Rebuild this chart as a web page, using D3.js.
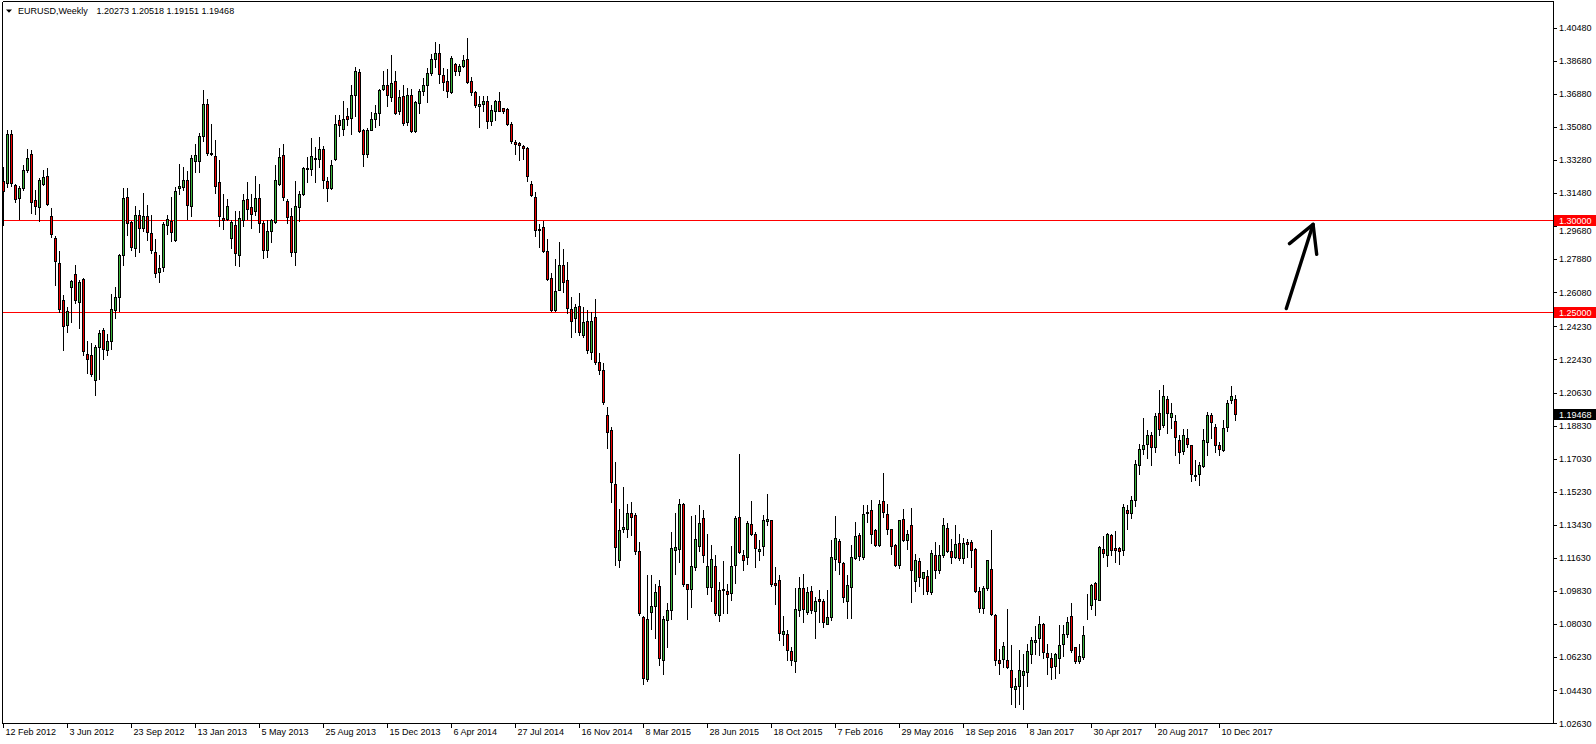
<!DOCTYPE html>
<html><head><meta charset="utf-8">
<script src="https://cdn.jsdelivr.net/npm/d3@7"></script>
<style>
body{margin:0;background:#fff}
svg{display:block}
text{font-family:"Liberation Sans",Arial,sans-serif;font-size:9px;fill:#000}
</style>
</head><body>
<svg id="chart" width="1596" height="744"></svg>
<script>
const symbol = "EURUSD,Weekly";
const firstWeek = "2012-02-12";

const open = [
1.3212,1.3203,1.3471,1.3194,1.3123,1.3178,1.3276,1.3363,1.3109,1.3073,
1.3200,1.3243,1.3022,1.2902,1.2770,1.2569,1.2433,1.2639,1.2706,1.2558,
1.2683,1.2275,1.2270,1.2134,1.2311,1.2402,1.2297,1.2346,1.2514,1.2585,
1.2813,1.3129,1.2989,1.2850,1.3029,1.2960,1.3026,1.2933,1.2828,1.2721,
1.2748,1.2977,1.2998,1.2895,1.3176,1.3183,1.3221,1.3076,1.3323,1.3325,
1.3457,1.3635,1.3368,1.3352,1.3207,1.3011,1.3006,1.2906,1.2977,1.2813,
1.3000,1.3116,1.3075,1.3051,1.3123,1.2984,1.2840,1.2940,1.2991,1.3200,
1.3354,1.3104,1.3022,1.2830,1.3073,1.3142,1.3287,1.3279,1.3336,1.3336,
1.3390,1.3212,1.3176,1.3335,1.3544,1.3499,1.3566,1.3557,1.3684,1.3809,
1.3493,1.3363,1.3493,1.3550,1.3584,1.3713,1.3734,1.3671,1.3760,1.3593,
1.3676,1.3533,1.3680,1.3484,1.3638,1.3704,1.3734,1.3803,1.3876,1.3912,
1.3792,1.3760,1.3698,1.3852,1.3812,1.3840,1.3876,1.3760,1.3696,1.3624,
1.3635,1.3647,1.3540,1.3597,1.3647,1.3609,1.3608,1.3526,1.3428,1.3422,
1.3402,1.3394,1.3200,1.3129,1.2955,1.2965,1.2833,1.2686,1.2512,1.2623,
1.2755,1.2674,1.2517,1.2466,1.2533,1.2374,1.2451,1.2286,1.2472,1.2231,
1.2188,1.1941,1.1860,1.1568,1.1150,1.1321,1.1319,1.1405,1.1399,1.1199,
1.0842,1.0502,1.0871,1.0904,1.1009,1.0610,1.0828,1.0879,1.1209,1.1214,
1.1459,1.1020,1.0996,1.1114,1.1227,1.1383,1.1006,1.1006,1.1122,1.0851,
1.0987,1.0986,1.0975,1.1125,1.1388,1.1181,1.1169,1.1346,1.1296,1.1201,
1.1229,1.1364,1.1368,1.1025,1.1042,1.0752,1.0752,1.0656,1.0603,1.0882,
1.1002,1.0870,1.0982,1.0875,1.0942,1.0928,1.0806,1.0844,1.1160,1.1254,
1.1136,1.0929,1.1006,1.1165,1.1290,1.1169,1.1412,1.1423,1.1314,1.1232,
1.1471,1.1404,1.1319,1.1232,1.1127,1.1377,1.1259,1.1341,1.1040,1.1145,
1.1056,1.1064,1.0980,1.1178,1.1100,1.1178,1.1328,1.1201,1.1169,1.1243,
1.1165,1.1248,1.1248,1.1212,1.0984,1.0893,1.1002,1.1102,1.0851,1.0610,
1.0616,1.0607,1.0552,1.0451,1.0465,1.0529,1.0543,1.0643,1.0706,1.0730,
1.0806,1.0648,1.0621,1.0574,1.0621,1.0694,1.0748,1.0846,1.0676,1.0603,
1.0625,1.0906,1.0906,1.1029,1.0937,1.1210,1.1178,1.1287,1.1219,1.1219,
1.1205,1.1426,1.1408,1.1477,1.1671,1.1754,1.1782,1.1831,1.1767,1.1954,
1.1885,1.2026,1.1930,1.1907,1.1803,1.1745,1.1818,1.1776,1.1617,1.1620,
1.1664,1.1794,1.1939,1.1876,1.1776,1.1749,1.1876,1.2024,1.20273];

const high = [
1.3290,1.3490,1.3490,1.3200,1.3185,1.3299,1.3390,1.3384,1.3163,1.3232,
1.3276,1.3287,1.3069,1.2913,1.2831,1.2596,1.2529,1.2677,1.2755,1.2674,
1.2687,1.2344,1.2331,1.2321,1.2402,1.2416,1.2380,1.2601,1.2637,1.2819,
1.3174,1.3178,1.2997,1.3076,1.3058,1.3147,1.3085,1.3027,1.2900,1.2810,
1.2991,1.3031,1.3127,1.3180,1.3308,1.3290,1.3267,1.3357,1.3417,1.3477,
1.3711,1.3660,1.3522,1.3439,1.3326,1.3142,1.3114,1.3000,1.3051,1.3049,
1.3142,1.3209,1.3145,1.3243,1.3200,1.2995,1.3004,1.3009,1.3303,1.3394,
1.3417,1.3114,1.3067,1.3212,1.3158,1.3290,1.3345,1.3450,1.3399,1.3453,
1.3403,1.3236,1.3326,1.3571,1.3571,1.3647,1.3611,1.3734,1.3832,1.3823,
1.3495,1.3502,1.3589,1.3626,1.3716,1.3812,1.3825,1.3898,1.3814,1.3707,
1.3738,1.3720,1.3713,1.3647,1.3716,1.3776,1.3831,1.3907,1.3970,1.3961,
1.3829,1.3822,1.3892,1.3858,1.3852,1.3901,1.3994,1.3780,1.3705,1.3676,
1.3675,1.3676,1.3629,1.3655,1.3698,1.3611,1.3611,1.3535,1.3439,1.3424,
1.3410,1.3398,1.3214,1.3155,1.2982,1.2996,1.2900,1.2716,1.2792,1.2884,
1.2843,1.2772,1.2582,1.2547,1.2602,1.2531,1.2512,1.2500,1.2572,1.2278,
1.2225,1.1986,1.1878,1.1686,1.1431,1.1548,1.1456,1.1466,1.1405,1.1252,
1.0846,1.1069,1.1069,1.1024,1.1045,1.0846,1.0919,1.1305,1.1408,1.1482,
1.1461,1.1024,1.1392,1.1395,1.1450,1.1423,1.1292,1.1232,1.1178,1.1033,
1.1147,1.1024,1.1227,1.1390,1.1727,1.1205,1.1365,1.1471,1.1305,1.1259,
1.1395,1.1510,1.1372,1.1114,1.1073,1.0846,1.0770,1.0679,1.1002,1.1060,
1.1074,1.1006,1.1011,1.0951,1.0987,1.0942,1.0987,1.1259,1.1390,1.1265,
1.1142,1.1069,1.1232,1.1357,1.1299,1.1452,1.1450,1.1477,1.1323,1.1477,
1.1627,1.1459,1.1323,1.1241,1.1372,1.1428,1.1314,1.1437,1.1183,1.1165,
1.1087,1.1096,1.1209,1.1248,1.1232,1.1379,1.1354,1.1268,1.1341,1.1296,
1.1274,1.1268,1.1259,1.1219,1.1006,1.1009,1.1154,1.1314,1.0857,1.0670,
1.0706,1.0888,1.0688,1.0512,1.0665,1.0639,1.0697,1.0734,1.0792,1.0846,
1.0810,1.0694,1.0647,1.0647,1.0797,1.0797,1.0842,1.0920,1.0679,1.0694,
1.0792,1.0966,1.1020,1.1035,1.1229,1.1281,1.1300,1.1292,1.1308,1.1223,
1.1455,1.1450,1.1499,1.1695,1.1785,1.1925,1.1858,1.1849,1.1952,1.2079,
1.2102,1.2043,1.2008,1.1943,1.1831,1.1867,1.1867,1.1780,1.1698,1.1685,
1.1867,1.1957,1.1952,1.1890,1.1794,1.1912,1.2021,1.2097,1.20518];

const low = [
1.2977,1.3181,1.3185,1.3100,1.3007,1.3163,1.3263,1.3040,1.3033,1.2997,
1.3190,1.3082,1.2909,1.2647,1.2500,1.2297,1.2393,1.2447,1.2550,1.2414,
1.2266,1.2170,1.2152,1.2050,1.2137,1.2248,1.2266,1.2302,1.2469,1.2507,
1.2757,1.2921,1.2837,1.2808,1.2828,1.2940,1.2893,1.2822,1.2692,1.2665,
1.2725,1.2928,1.2886,1.2890,1.3142,1.3163,1.3006,1.3022,1.3263,1.3263,
1.3430,1.3354,1.3357,1.3149,1.2968,1.2955,1.3000,1.2852,1.2757,1.2752,
1.2968,1.3009,1.2958,1.3027,1.2937,1.2797,1.2798,1.2880,1.2985,1.3191,
1.3109,1.2988,1.2805,1.2755,1.2998,1.3136,1.3209,1.3245,1.3209,1.3290,
1.3176,1.3105,1.3169,1.3328,1.3459,1.3466,1.3517,1.3468,1.3568,1.3481,
1.3296,1.3345,1.3490,1.3508,1.3521,1.3707,1.3622,1.3647,1.3580,1.3580,
1.3521,1.3517,1.3481,1.3481,1.3586,1.3684,1.3644,1.3792,1.3834,1.3749,
1.3711,1.3673,1.3693,1.3789,1.3789,1.3834,1.3749,1.3684,1.3617,1.3508,
1.3593,1.3502,1.3517,1.3544,1.3593,1.3586,1.3517,1.3421,1.3363,1.3328,
1.3333,1.3214,1.3133,1.2914,1.2853,1.2827,1.2676,1.2506,1.2506,1.2620,
1.2608,1.2496,1.2363,1.2394,1.2378,1.2363,1.2276,1.2247,1.2221,1.2166,
1.2002,1.1762,1.1466,1.1125,1.1113,1.1303,1.1276,1.1288,1.1186,1.0854,
1.0480,1.0494,1.0779,1.0730,1.0579,1.0534,1.0676,1.0833,1.1074,1.1142,
1.1011,1.0833,1.0897,1.1100,1.1201,1.1142,1.0969,1.0931,1.0851,1.0821,
1.0861,1.0861,1.0933,1.1027,1.1192,1.1096,1.1132,1.1290,1.1114,1.1151,
1.1178,1.1345,1.1011,1.0911,1.0719,1.0688,1.0610,1.0583,1.0540,1.0846,
1.0815,1.0857,1.0864,1.0725,1.0815,1.0788,1.0803,1.0824,1.1096,1.1074,
1.0924,1.0839,1.0839,1.1160,1.1154,1.1158,1.1359,1.1245,1.1227,1.1227,
1.1386,1.1296,1.1187,1.1120,1.1111,1.1254,1.1214,1.0924,1.0984,1.1009,
1.0969,1.0969,1.0969,1.1054,1.1082,1.1169,1.1196,1.1136,1.1165,1.1154,
1.1136,1.1169,1.1114,1.0978,1.0868,1.0864,1.0991,1.0851,1.0579,1.0531,
1.0570,1.0565,1.0366,1.0352,1.0370,1.0340,1.0467,1.0592,1.0639,1.0637,
1.0621,1.0534,1.0507,1.0512,1.0538,1.0630,1.0734,1.0652,1.0589,1.0592,
1.0616,1.0833,1.0888,1.0851,1.0933,1.1169,1.1118,1.1178,1.1142,1.1129,
1.1178,1.1321,1.1381,1.1446,1.1618,1.1731,1.1709,1.1667,1.1740,1.1831,
1.1876,1.1843,1.1870,1.1722,1.1680,1.1731,1.1767,1.1582,1.1586,1.1559,
1.1658,1.1725,1.1816,1.1740,1.1722,1.1745,1.1854,1.2008,1.19151];

const close = [
1.3162,1.3468,1.3203,1.3116,1.3178,1.3272,1.3341,1.3100,1.3080,1.3218,
1.3238,1.3089,1.2926,1.2779,1.2518,1.2427,1.2509,1.2668,1.2569,1.2663,
1.2291,1.2248,1.2166,1.2309,1.2389,1.2300,1.2342,1.2520,1.2585,1.2810,
1.3123,1.2987,1.2855,1.3031,1.2958,1.3026,1.2938,1.2841,1.2714,1.2743,
1.2982,1.3009,1.2935,1.3162,1.3189,1.3218,1.3084,1.3341,1.3357,1.3461,
1.3635,1.3366,1.3363,1.3189,1.3024,1.3004,1.3080,1.2993,1.2824,1.3015,
1.3109,1.3064,1.3036,1.3123,1.2987,1.2838,1.2940,1.3000,1.3221,1.3347,
1.3127,1.3018,1.2830,1.3076,1.3145,1.3287,1.3279,1.3348,1.3341,1.3390,
1.3221,1.3176,1.3303,1.3526,1.3519,1.3553,1.3553,1.3684,1.3811,1.3486,
1.3363,1.3493,1.3553,1.3586,1.3707,1.3738,1.3682,1.3745,1.3584,1.3669,
1.3530,1.3680,1.3486,1.3642,1.3702,1.3738,1.3803,1.3876,1.3912,1.3798,
1.3753,1.3704,1.3885,1.3812,1.3838,1.3870,1.3753,1.3698,1.3629,1.3635,
1.3647,1.3540,1.3599,1.3651,1.3597,1.3597,1.3524,1.3432,1.3414,1.3410,
1.3396,1.3241,1.3139,1.2949,1.2949,1.2833,1.2680,1.2512,1.2614,1.2759,
1.2665,1.2525,1.2455,1.2527,1.2394,1.2445,1.2292,1.2455,1.2227,1.2184,
1.2011,1.1847,1.1578,1.1221,1.1313,1.1333,1.1409,1.1388,1.1203,1.0864,
1.0511,1.0833,1.0904,1.0980,1.0621,1.0833,1.0882,1.1219,1.1221,1.1459,
1.1024,1.0996,1.1122,1.1268,1.1355,1.1181,1.1118,1.1160,1.0861,1.0991,
1.0996,1.0969,1.1122,1.1379,1.1196,1.1154,1.1355,1.1296,1.1219,1.1214,
1.1368,1.1373,1.1024,1.1018,1.0757,1.0764,1.0661,1.0610,1.0888,1.1002,
1.0888,1.0977,1.0882,1.0931,1.0929,1.0812,1.0844,1.1167,1.1270,1.1142,
1.0951,1.1015,1.1167,1.1281,1.1172,1.1401,1.1406,1.1296,1.1236,1.1459,
1.1413,1.1323,1.1229,1.1127,1.1368,1.1263,1.1292,1.1100,1.1151,1.1060,
1.1085,1.0984,1.1192,1.1100,1.1178,1.1341,1.1201,1.1169,1.1238,1.1165,
1.1243,1.1241,1.1209,1.0984,1.0893,1.1000,1.1151,1.0857,1.0610,1.0592,
1.0683,1.0570,1.0462,1.0465,1.0552,1.0547,1.0656,1.0716,1.0716,1.0803,
1.0652,1.0625,1.0570,1.0639,1.0688,1.0752,1.0812,1.0665,1.0603,1.0628,
1.0743,1.0909,1.1015,1.0942,1.1221,1.1190,1.1296,1.1205,1.1209,1.1201,
1.1441,1.1408,1.1481,1.1673,1.1758,1.1780,1.1831,1.1767,1.1934,1.1867,
1.2043,1.1952,1.1954,1.1821,1.1740,1.1831,1.1785,1.1620,1.1611,1.1671,
1.1803,1.1939,1.1903,1.1780,1.1754,1.1872,1.2008,1.2043,1.19468];

const priceTicks = [1.40480,1.38680,1.36880,1.35080,1.33280,1.31480,1.29680,1.27880,1.26080,1.24230,
  1.22430,1.20630,1.18830,1.17030,1.15230,1.13430,1.11630,1.09830,1.08030,1.06230,1.04430,1.02630];
const dateTickLabels = ["12 Feb 2012","3 Jun 2012","23 Sep 2012","13 Jan 2013","5 May 2013","25 Aug 2013",
  "15 Dec 2013","6 Apr 2014","27 Jul 2014","16 Nov 2014","8 Mar 2015","28 Jun 2015","18 Oct 2015",
  "7 Feb 2016","29 May 2016","18 Sep 2016","8 Jan 2017","30 Apr 2017","20 Aug 2017","10 Dec 2017"];
const dateTickDates = ["2012-02-12","2012-06-03","2012-09-23","2013-01-13","2013-05-05","2013-08-25",
  "2013-12-15","2014-04-06","2014-07-27","2014-11-16","2015-03-08","2015-06-28","2015-10-18",
  "2016-02-07","2016-05-29","2016-09-18","2017-01-08","2017-04-30","2017-08-20","2017-12-10"];
const levels = [1.30000, 1.25000];
// hand-drawn arrow annotation: [week offset from first week, price]
const arrowShaft = [[320.7, 1.2520], [327.4, 1.2978]];
const arrowHeadLeft = [321.5, 1.2873];
const arrowHeadRight = [328.3, 1.2815];

const W = 1596, H = 744;
const plotL = 2.5, plotR = 1553.5, plotT = 1.5, plotB = 723.5;
const bullColor = "#3cb43c", bearColor = "#f00000";

const svg = d3.select("#chart");
const t0 = new Date(firstWeek + "T00:00:00Z");
const n = open.length;
const weekDate = i => d3.utcDay.offset(t0, 7 * i);
const x = d3.scaleUtc().domain([t0, weekDate(n - 1)]).range([3.5, 3.5 + 4 * (n - 1)]);
const y = d3.scaleLinear().domain([1.02630, 1.40480]).range([723.4, 27.7]);
const xw = v => x(d3.utcHour.offset(t0, Math.round(v * 7 * 24)));

const data = d3.range(n).map(i => ({d: weekDate(i), o: open[i], h: high[i], l: low[i], c: close[i]}));

svg.append("rect").attr("width", W).attr("height", H).attr("fill", "#fff");

const defs = svg.append("defs");
defs.append("clipPath").attr("id", "plot").append("rect")
  .attr("x", plotL).attr("y", plotT).attr("width", plotR - plotL).attr("height", plotB - plotT);

const g = svg.append("g").attr("clip-path", "url(#plot)");

// level lines
g.selectAll("line.level").data(levels).join("line")
  .attr("x1", plotL).attr("x2", plotR)
  .attr("y1", d => Math.round(y(d)) + 0.5).attr("y2", d => Math.round(y(d)) + 0.5)
  .attr("stroke", "#ff0000").attr("stroke-width", 1).attr("shape-rendering", "crispEdges");

// candles
const cg = g.append("g").attr("shape-rendering", "crispEdges");
const candle = cg.selectAll("g").data(data).join("g");
candle.append("line")
  .attr("x1", d => x(d.d)).attr("x2", d => x(d.d))
  .attr("y1", d => Math.round(y(d.h))).attr("y2", d => Math.round(y(d.l)) + 1)
  .attr("stroke", "#000").attr("stroke-width", 1);
candle.append("rect")
  .attr("x", d => x(d.d) - 1)
  .attr("width", 2)
  .attr("y", d => Math.round(y(Math.max(d.o, d.c))) + 0.5)
  .attr("height", d => Math.max(0, Math.round(y(Math.min(d.o, d.c))) - Math.round(y(Math.max(d.o, d.c)))))
  .attr("fill", d => d.c >= d.o ? bullColor : bearColor)
  .attr("stroke", "#000").attr("stroke-width", 1);

// arrow annotation
const arrowLine = d3.line().x(p => xw(p[0])).y(p => y(p[1]));
const arrowG = g.append("g").attr("fill", "none").attr("stroke", "#000")
  .attr("stroke-width", 3.4).attr("stroke-linecap", "round").attr("stroke-linejoin", "round");
arrowG.append("path").attr("d", arrowLine(arrowShaft));
arrowG.append("path").attr("d", arrowLine([arrowHeadLeft, arrowShaft[1], arrowHeadRight]));

// frame
const fr = svg.append("g").attr("stroke", "#000").attr("stroke-width", 1).attr("shape-rendering", "crispEdges");
fr.append("line").attr("x1", plotL).attr("x2", plotL).attr("y1", plotT).attr("y2", plotB);
fr.append("line").attr("x1", plotL).attr("x2", plotR).attr("y1", plotT).attr("y2", plotT);
fr.append("line").attr("x1", plotR).attr("x2", plotR).attr("y1", plotT).attr("y2", plotB);
fr.append("line").attr("x1", plotL).attr("x2", plotR).attr("y1", plotB).attr("y2", plotB);

// price label box extents (to keep tick labels readable beside them)
const boxValues = levels.concat([close[n - 1]]);
const boxTop = v => Math.round(y(v)) - 5;
function labelY(d) {
  let ty = y(d) + 3.2;
  boxValues.forEach(v => {
    const top = boxTop(v), bot = top + 11;
    if (ty - 7 < bot && ty > top) ty = ty > top + 5.5 ? bot + 7.5 : ty;
  });
  return ty;
}

// price axis
const pa = svg.append("g");
pa.selectAll("line").data(priceTicks).join("line")
  .attr("x1", plotR).attr("x2", plotR + 3)
  .attr("y1", d => Math.round(y(d)) + 0.5).attr("y2", d => Math.round(y(d)) + 0.5)
  .attr("stroke", "#000").attr("shape-rendering", "crispEdges");
pa.selectAll("text").data(priceTicks).join("text")
  .attr("x", 1559).attr("y", d => labelY(d))
  .text(d => d.toFixed(5));

// date axis
const da = svg.append("g");
const tickDates = dateTickDates.map(s => new Date(s + "T00:00:00Z"));
da.selectAll("line").data(tickDates).join("line")
  .attr("x1", d => x(d)).attr("x2", d => x(d))
  .attr("y1", plotB).attr("y2", plotB + 4)
  .attr("stroke", "#000").attr("shape-rendering", "crispEdges");
da.selectAll("text").data(dateTickLabels).join("text")
  .attr("x", (d, i) => x(tickDates[i]) + 2).attr("y", 735)
  .text(d => d);

// price label boxes
function priceBox(v, bg) {
  const yy = Math.round(y(v));
  svg.append("rect").attr("x", 1554).attr("y", yy - 5).attr("width", 42).attr("height", 11)
    .attr("fill", bg).attr("shape-rendering", "crispEdges");
  svg.append("text").attr("x", 1559).attr("y", yy + 3.5).style("fill", "#fff").text(v.toFixed(5));
}
levels.forEach(v => priceBox(v, "#ff0000"));
priceBox(close[n - 1], "#000");

// header
svg.append("path").attr("d", "M6,9.5L12,9.5L9,12.8Z").attr("fill", "#000");
svg.append("text").attr("x", 18).attr("y", 14.3).text(symbol);
svg.append("text").attr("x", 96.5).attr("y", 14.3)
  .text([open[n-1], high[n-1], low[n-1], close[n-1]].map(v => v.toFixed(5)).join(" "));
</script>
</body></html>
